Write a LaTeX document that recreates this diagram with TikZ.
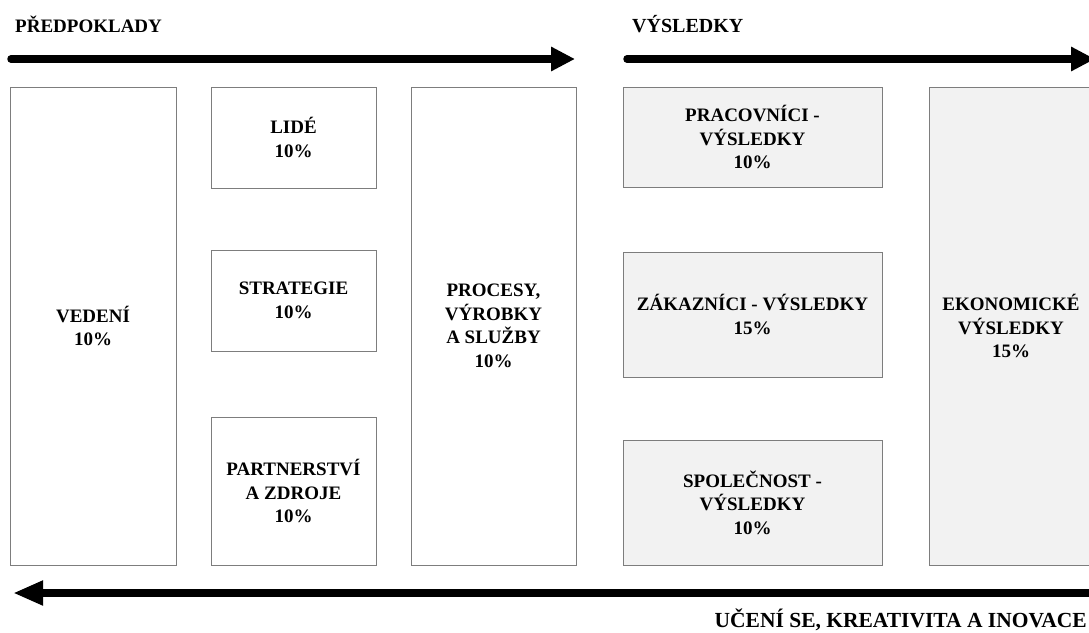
\documentclass[tikz,border=0pt]{standalone}
\usepackage{fontspec}
\setmainfont{Liberation Serif}
\usetikzlibrary{arrows.meta}
\definecolor{edge}{RGB}{125,125,125}
\definecolor{resfill}{RGB}{242,242,242}
\begin{document}
\begin{tikzpicture}[x=1pt,y=-1pt,
  txt/.style={font=\fontsize{19}{23.5}\selectfont\bfseries},
  box/.style={txt,draw=edge,line width=0.9pt,inner sep=0pt,align=center,fill=white},
  resbox/.style={box,fill=resfill},
  heading/.style={txt,inner sep=0pt},
  flow/.style={line width=7.5pt,-{Triangle[length=24pt,width=23pt]}},
  backflow/.style={line width=7.5pt,-{Triangle[length=30pt,width=23pt]}}
]
\useasboundingbox (0,0) rectangle (1089,632);
\clip (0,0) rectangle (1089,632);

% enablers
\node[box,minimum width=166pt,minimum height=478pt] (vedeni) at (93,326) {VEDENÍ\\10\%};
\node[box,minimum width=165pt,minimum height=101pt] (lide) at (293.5,137.5) {LIDÉ\\10\%};
\node[box,minimum width=165pt,minimum height=101pt] (strategie) at (293.5,300.5) {STRATEGIE\\10\%};
\node[box,minimum width=165pt,minimum height=148pt] (partner) at (293.5,491) {PARTNERSTVÍ\\A ZDROJE\\10\%};
\node[box,minimum width=165pt,minimum height=478pt] (procesy) at (493.5,326) {PROCESY,\\VÝROBKY\\A SLUŽBY\\10\%};

% results
\node[resbox,minimum width=259pt,minimum height=100pt] (pracovnici) at (752.5,137) {PRACOVNÍCI -\\VÝSLEDKY\\10\%};
\node[resbox,minimum width=259pt,minimum height=125pt] (zakaznici) at (752.5,314.5) {ZÁKAZNÍCI - VÝSLEDKY\\15\%};
\node[resbox,minimum width=259pt,minimum height=125pt] (spolecnost) at (752.5,502.5) {SPOLEČNOST -\\VÝSLEDKY\\10\%};
\node[resbox,minimum width=164pt,minimum height=478pt] (ekonomicke) at (1011,326) {EKONOMICKÉ\\VÝSLEDKY\\15\%};

% headings
\node[heading,anchor=base west] (hpred) at (15,32) {PŘEDPOKLADY};
\node[heading,anchor=base west,font=\fontsize{20}{24}\selectfont\bfseries] (hvys) at (632,32) {VÝSLEDKY};
\node[heading,anchor=base east,font=\fontsize{21.5}{25}\selectfont\bfseries] (hucen) at (1087,627) {UČENÍ SE, KREATIVITA A INOVACE};

% flow arrows
\coordinate (a0) at (11,59);
\coordinate (a1) at (575,59);
\coordinate (b0) at (627,59);
\coordinate (b1) at (1095,59);
\coordinate (c0) at (1110,593);
\coordinate (c1) at (13,593);
\draw[flow,line cap=round] (a0) -- (a1);
\draw[flow,line cap=round] (b0) -- (b1);
\draw[backflow] (c0) -- (c1);
\end{tikzpicture}
\end{document}
